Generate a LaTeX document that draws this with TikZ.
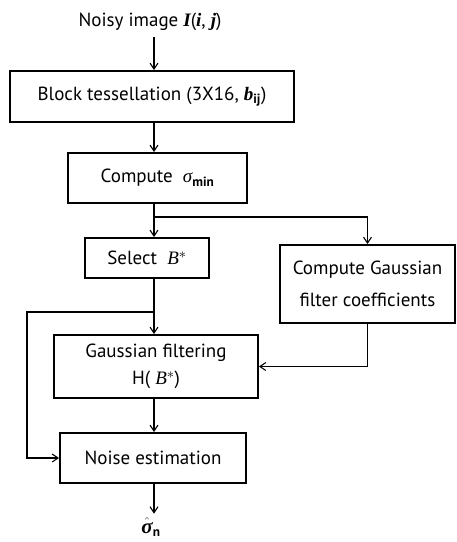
\documentclass[tikz,border=0pt]{standalone}
\usepackage{fontspec}
\setmainfont{PT Sans}
\newfontfamily\symserif{Liberation Serif}
\usetikzlibrary{arrows.meta,calc}

% serif italic symbols used in the labels
\newcommand{\sym}[1]{{\symserif\itshape #1}}
\newcommand{\bsym}[1]{{\symserif\bfseries\itshape #1}}

\begin{document}
\begin{tikzpicture}[x=1pt,y=-1pt,
  every node/.style={font=\fontsize{19}{22}\selectfont, inner sep=0pt},
  stage/.style={draw, line width=1.8pt, align=center},
  link/.style={line width=1.1pt, -{Straight Barb[length=6pt,width=8pt,line width=1.1pt]}}]

\useasboundingbox (0,0) rectangle (457,542);

% input and output labels
\node (input) at (150,22) {Noisy image \bsym{I}(\bsym{i}, \bsym{j})};
\node (output) at (151,527) {$\hat{\hbox{\fontsize{21}{24}\selectfont\bsym{σ}}}_{\mathbf{n}}$};

% processing stages
\node[stage, minimum width=284, minimum height=51] (blk) at (152,96.5)
  {Block tessellation (3X16, \bsym{b}$_{\mathbf{ij}}$)};
\node[stage, minimum width=179, minimum height=50] (cmp) at (157.5,178)
  {Compute\ \ \sym{σ}$_{\mathbf{min}}$};
\node[stage, minimum width=124, minimum height=40] (sel) at (147,258)
  {Select\ \ \sym{B}$^{*}$};
\node[stage, minimum width=175, minimum height=78,
      font=\fontsize{19}{32}\selectfont] (coef) at (367.5,284)
  {Compute Gaussian\\filter coefficients};
\node[stage, minimum width=204, minimum height=63,
      font=\fontsize{19}{27}\selectfont] (gf) at (156,366.5)
  {Gaussian filtering\\H( \sym{B}$^{*}$)};
\node[stage, minimum width=186, minimum height=50] (ne) at (153,458)
  {Noise estimation};

% trunk and branch points
\coordinate (tx) at (154,0);
\coordinate (split) at (154,217);
\coordinate (tap) at (154,312);
\coordinate (loopx) at (27,0);

% main flow
\draw[link] (input.south -| tx) ++(0,6) -- (blk.north -| tx);
\draw[link] (blk.south -| tx) -- (cmp.north -| tx);
\draw[link] (cmp.south -| tx) -- (sel.north -| tx);
\draw[link] (split) -| (coef.north);
\draw[link] (sel.south -| tx) -- (gf.north -| tx);
\draw[link] (coef.south) |- (gf.east);
\draw[link] (gf.south -| tx) -- (ne.north -| tx);
\draw[link] (ne.south -| tx) -- ($(output.north -| tx)+(0,-4)$);

% bypass of the filtered block into the estimator
\draw[link] (tap) -- (tap -| loopx) |- (ne.west);
\end{tikzpicture}
\end{document}
